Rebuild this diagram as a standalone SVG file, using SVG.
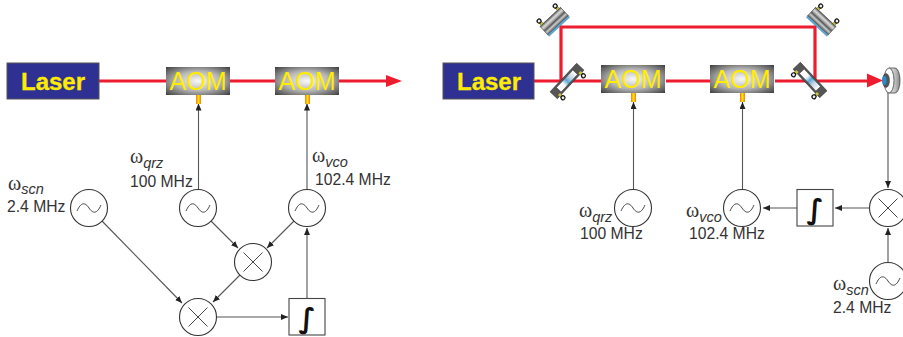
<svg xmlns="http://www.w3.org/2000/svg" width="903" height="337" viewBox="0 0 903 337">
<style>
text{font-family:"Liberation Sans",Arial,sans-serif;fill:#333}
.lab{font-size:15.700px}
.om{font-family:"Liberation Serif","DejaVu Serif",serif;font-size:20px}
.sub{font-family:"Liberation Sans",Arial,sans-serif;font-size:14.500px;font-style:italic}
.laser{font-size:24px;font-weight:bold;fill:#ffec00;stroke:#ffec00;stroke-width:.3}
.aomt{font-size:25px;fill:#ffec00;text-anchor:middle}
.red{stroke:#ed1c2e;stroke-width:3.200;fill:none}
.ln{stroke:#555;stroke-width:1.100;fill:none}
.c{fill:#fff;stroke:#333;stroke-width:1.100}
.s{fill:none;stroke:#333;stroke-width:.9}
.k{fill:#eee;stroke:#111;stroke-width:1.200}
.h{stroke:#222;stroke-width:3;fill:none}
.y{fill:#c8c040}
</style>
<defs>
<radialGradient id="ag" cx=".5" cy=".5" r=".7"><stop offset="0" stop-color="#f8f8f8"/><stop offset=".5" stop-color="#b5b5b5"/><stop offset="1" stop-color="#404040"/></radialGradient>
<linearGradient id="st" x1="0" x2="1" y1="0" y2="0"><stop offset="0" stop-color="#f47920"/><stop offset=".5" stop-color="#ffe600"/><stop offset="1" stop-color="#f47920"/></linearGradient>
<linearGradient id="mg" x1="0" x2="0" y1="0" y2="1"><stop offset="0" stop-color="#555"/><stop offset=".25" stop-color="#ddd"/><stop offset=".45" stop-color="#999"/><stop offset=".55" stop-color="#555"/><stop offset=".75" stop-color="#ccc"/><stop offset="1" stop-color="#555"/></linearGradient>
<linearGradient id="bs" x1="0" x2="1" y1="0" y2="0"><stop offset="0" stop-color="#fff"/><stop offset=".3" stop-color="#fff"/><stop offset=".5" stop-color="#5aa9d6"/><stop offset=".7" stop-color="#c5d5e5"/><stop offset="1" stop-color="#fff"/></linearGradient>
<linearGradient id="dg" x1="0" x2="1" y1="0" y2="0"><stop offset="0" stop-color="#eee"/><stop offset=".6" stop-color="#bbb"/><stop offset="1" stop-color="#888"/></linearGradient>
<marker id="a" viewBox="0 0 7 6" refX="7" refY="3" markerWidth="7" markerHeight="6" markerUnits="userSpaceOnUse" orient="auto"><path d="M0 0L7 3L0 6z" fill="#222"/></marker>
<g id="osc"><circle r="18.500" class="c"/><path class="s" d="M-12 3C-8-6-4-6 0 0S8 6 12-3"/></g>
<g id="mix"><circle r="18.500" class="c"/><path class="s" d="M-9.500-9.500L9.500 9.500M-9.500 9.500L9.500-9.500"/></g>
<g id="int"><rect width="36" height="36.500" fill="#fff" stroke="#444" stroke-width="1.100"/><text x="18" y="29" text-anchor="middle" style="font-family:'DejaVu Sans',sans-serif;font-size:28px;fill:#111;font-weight:bold">∫</text></g>
<g id="aom"><rect width="64" height="28" fill="url(#ag)"/><text x="32" y="23" class="aomt">AOM</text></g>
<g id="mir"><path class="h" d="M-11-6V-11M11-6V-11"/><rect x="-14" y="-7" width="28" height="11.500" fill="url(#mg)" stroke="#333" stroke-width=".6"/><rect x="-14" y="4.500" width="28" height="2" fill="#5aa9d6" stroke="#345" stroke-width=".3"/><rect x="-12.500" y="-10" width="3" height="3" class="y"/><rect x="9.500" y="-10" width="3" height="3" class="y"/><circle cx="-11" cy="-11.500" r="2" class="k"/><circle cx="11" cy="-11.500" r="2" class="k"/></g>
<g id="bsp"><path class="h" d="M-15 4V8M15 4V8"/><rect x="-19.500" y="-5" width="39" height="10" fill="#555" stroke="#333" stroke-width=".6"/><rect x="-12" y="-3.200" width="24" height="6.400" fill="url(#bs)" stroke="#333" stroke-width=".5"/><rect x="-16.500" y="3" width="3" height="3" class="y"/><rect x="13.500" y="3" width="3" height="3" class="y"/><circle cx="-15" cy="8.500" r="2" class="k"/><circle cx="15" cy="8.500" r="2" class="k"/></g>
</defs>
<g id="connectors">
<path class="red" d="M99 81H166M230 81H275M339 81H390"/><path d="M386 75L402 81L386 87z" fill="#ed1c2e"/>
<path class="red" d="M534 81H601M666 81H710M775 81H870M561 81V27H815V81"/><path d="M867 73.500L883 80.500L867 87.500z" fill="#ed1c2e"/>
<path class="ln" marker-end="url(#a)" d="M198.500 189.500V103.500"/>
<path class="ln" marker-end="url(#a)" d="M307 189.500V103.500"/>
<path class="ln" marker-end="url(#a)" d="M211 221L238 248"/>
<path class="ln" marker-end="url(#a)" d="M294 221L267 248"/>
<path class="ln" marker-end="url(#a)" d="M102 221L182 303"/>
<path class="ln" marker-end="url(#a)" d="M240 275L213 302"/>
<path class="ln" marker-end="url(#a)" d="M216.500 317H288"/>
<path class="ln" marker-end="url(#a)" d="M307 298V228"/>
<path class="ln" marker-end="url(#a)" d="M633.500 189.500V102"/>
<path class="ln" marker-end="url(#a)" d="M742.500 189.500V102"/>
<path class="ln" marker-end="url(#a)" d="M888 92V188"/>
<path class="ln" marker-end="url(#a)" d="M869.500 208H835"/>
<path class="ln" marker-end="url(#a)" d="M797 208H763"/>
<path class="ln" marker-end="url(#a)" d="M888 262.500V228"/>
</g>
<g id="laser-l"><rect x="7" y="63" width="92" height="36" fill="#2e3192" stroke="#555"/><text x="21" y="90" class="laser">Laser</text></g>
<g id="aom-l1"><use href="#aom" x="166" y="67"/><rect x="196" y="95" width="5" height="9" fill="url(#st)"/></g>
<g id="aom-l2"><use href="#aom" x="275" y="67"/><rect x="305" y="95" width="5" height="9" fill="url(#st)"/></g>
<g id="osc-scn-l"><use href="#osc" x="89" y="208"/><text x="8" y="190" class="om">ω<tspan class="sub" dy="4">scn</tspan></text><text x="7" y="212" class="lab">2.4 MHz</text></g>
<g id="osc-qrz-l"><use href="#osc" x="198" y="208"/><text x="130" y="163" class="om">ω<tspan class="sub" dy="5">qrz</tspan></text><text x="130" y="187" class="lab">100 MHz</text></g>
<g id="osc-vco-l"><use href="#osc" x="307" y="208"/><text x="312" y="162" class="om">ω<tspan class="sub" dy="5">vco</tspan></text><text x="315" y="185" class="lab">102.4 MHz</text></g>
<g id="mix-l1"><use href="#mix" x="253" y="262"/></g>
<g id="mix-l2"><use href="#mix" x="198" y="317"/></g>
<g id="int-l"><use href="#int" x="289" y="298.500"/></g>
<g id="laser-r"><rect x="443" y="63" width="91" height="36" fill="#2e3192" stroke="#555"/><text x="457" y="90" class="laser">Laser</text></g>
<g id="aom-r1"><use href="#aom" x="601" y="65"/><rect x="631" y="93" width="5" height="9" fill="url(#st)"/></g>
<g id="aom-r2"><use href="#aom" x="710" y="65"/><rect x="740" y="93" width="5" height="9" fill="url(#st)"/></g>
<g id="mirror-1"><use href="#mir" transform="translate(555 22) rotate(-43)"/></g>
<g id="mirror-2"><use href="#mir" transform="translate(821 22) rotate(43)"/></g>
<g id="mirror-3"><use href="#bsp" transform="translate(567 81) rotate(-47)"/></g>
<g id="mirror-4"><use href="#bsp" transform="translate(810 80) rotate(47)"/></g>
<g id="detector"><path d="M889 68H895A5 12.500 0 0 1 895 93H889z" fill="url(#dg)" stroke="#444" stroke-width=".8"/><ellipse cx="889" cy="80.500" rx="5" ry="12.500" fill="#fff" stroke="#444" stroke-width=".8"/><ellipse cx="886" cy="80.500" rx="3.500" ry="7" fill="#555" stroke="#333" stroke-width=".5"/><ellipse cx="884.500" cy="80.500" rx="2" ry="4.500" fill="#1f8fd0"/></g>
<g id="osc-qrz-r"><use href="#osc" x="633" y="208"/><text x="579" y="217" class="om">ω<tspan class="sub" dy="5">qrz</tspan></text><text x="580" y="239" class="lab">100 MHz</text></g>
<g id="osc-vco-r"><use href="#osc" x="742" y="208"/><text x="686" y="217" class="om">ω<tspan class="sub" dy="5">vco</tspan></text><text x="689" y="239" class="lab">102.4 MHz</text></g>
<g id="int-r"><use href="#int" x="797" y="189.500"/></g>
<g id="mix-r"><use href="#mix" x="888" y="208"/></g>
<g id="osc-scn-r"><use href="#osc" x="888" y="281"/><text x="833" y="290" class="om">ω<tspan class="sub" dy="5">scn</tspan></text><text x="833" y="313" class="lab">2.4 MHz</text></g>
</svg>
